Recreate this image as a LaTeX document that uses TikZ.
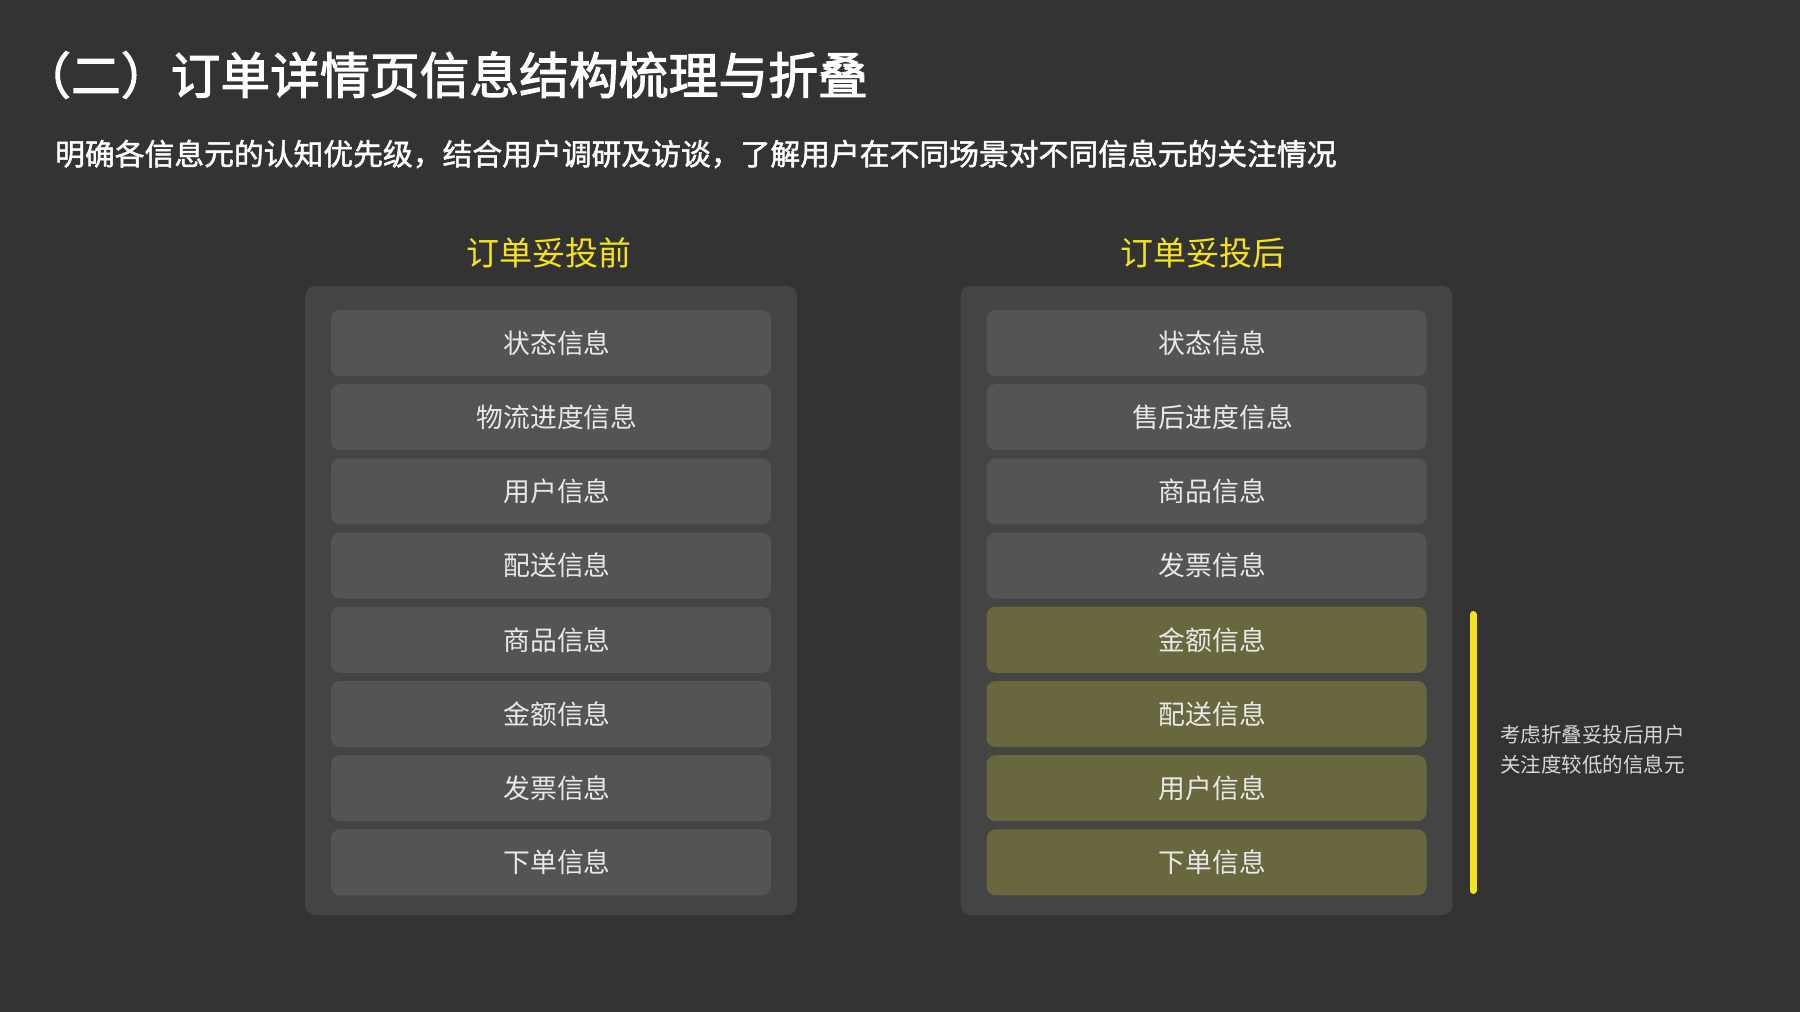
\documentclass[tikz,border=0pt]{standalone}
\usepackage{fontspec}
\setmainfont{Noto Sans CJK SC}
\newfontfamily\titlefont{Noto Sans CJK SC}[FakeBold=2.2]
\newfontfamily\subfont{Noto Sans CJK SC}[FakeBold=1.6]
\definecolor{bgc}{HTML}{333333}
\definecolor{panelc}{HTML}{444444}
\definecolor{itemc}{HTML}{545454}
\definecolor{olivec}{HTML}{68673E}
\definecolor{hyellow}{HTML}{F5E21A}
\definecolor{itemtext}{HTML}{E8E8E8}
\definecolor{notetext}{HTML}{D6D6D6}
\tikzset{
  panel/.style={fill=panelc, rounded corners=10pt, minimum width=492pt, minimum height=629pt, inner sep=0pt},
  item/.style={fill=itemc, rounded corners=9pt, minimum width=440pt, minimum height=66pt, inner sep=0pt, text=itemtext, font=\fontsize{26.8}{30}\selectfont, execute at begin node=\hspace*{12pt}},
  hitem/.style={item, fill=olivec},
  heading/.style={inner sep=0pt, text=hyellow, font=\fontsize{33}{38}\selectfont},
}
\begin{document}
\begin{tikzpicture}[x=1pt,y=-1pt]
\fill[bgc] (0,0) rectangle (1800,1012);
\useasboundingbox (0,0) rectangle (1800,1012);
\node[anchor=west, inner sep=0pt, text=white, font=\fontsize{49.8}{58}\titlefont] (title) at (21,75) {（二）订单详情页信息结构梳理与折叠};
\node[anchor=west, inner sep=0pt, text=white, font=\fontsize{29.8}{34}\subfont] (sub) at (55,154) {明确各信息元的认知优先级，结合用户调研及访谈，了解用户在不同场景对不同信息元的关注情况};
\node[heading] (hl) at (549,253) {订单妥投前};
\node[heading] (hr) at (1203,253) {订单妥投后};
\node[panel] (pl) at (551,600.5) {};
\node[panel] (pr) at (1206.5,600.5) {};
\foreach \t [count=\i] in {状态信息,物流进度信息,用户信息,配送信息,商品信息,金额信息,发票信息,下单信息}
  \node[item] (l\i) at (551,{343+(\i-1)*74.2}) {\t};
\foreach \t/\s [count=\i] in {状态信息/item,售后进度信息/item,商品信息/item,发票信息/item,金额信息/hitem,配送信息/hitem,用户信息/hitem,下单信息/hitem}
  \node[\s] (r\i) at (1206.5,{343+(\i-1)*74.2}) {\t};
\coordinate (bt) at (1473,614.5);
\coordinate (bb) at (1473,890.5);
\draw[hyellow, line width=7pt, line cap=round] (bt) -- (bb);
\node[anchor=west, inner sep=0pt, align=left, text=notetext, font=\fontsize{20.5}{30}\selectfont] (note) at (1500,750) {考虑折叠妥投后用户\\关注度较低的信息元};
\end{tikzpicture}
\end{document}
